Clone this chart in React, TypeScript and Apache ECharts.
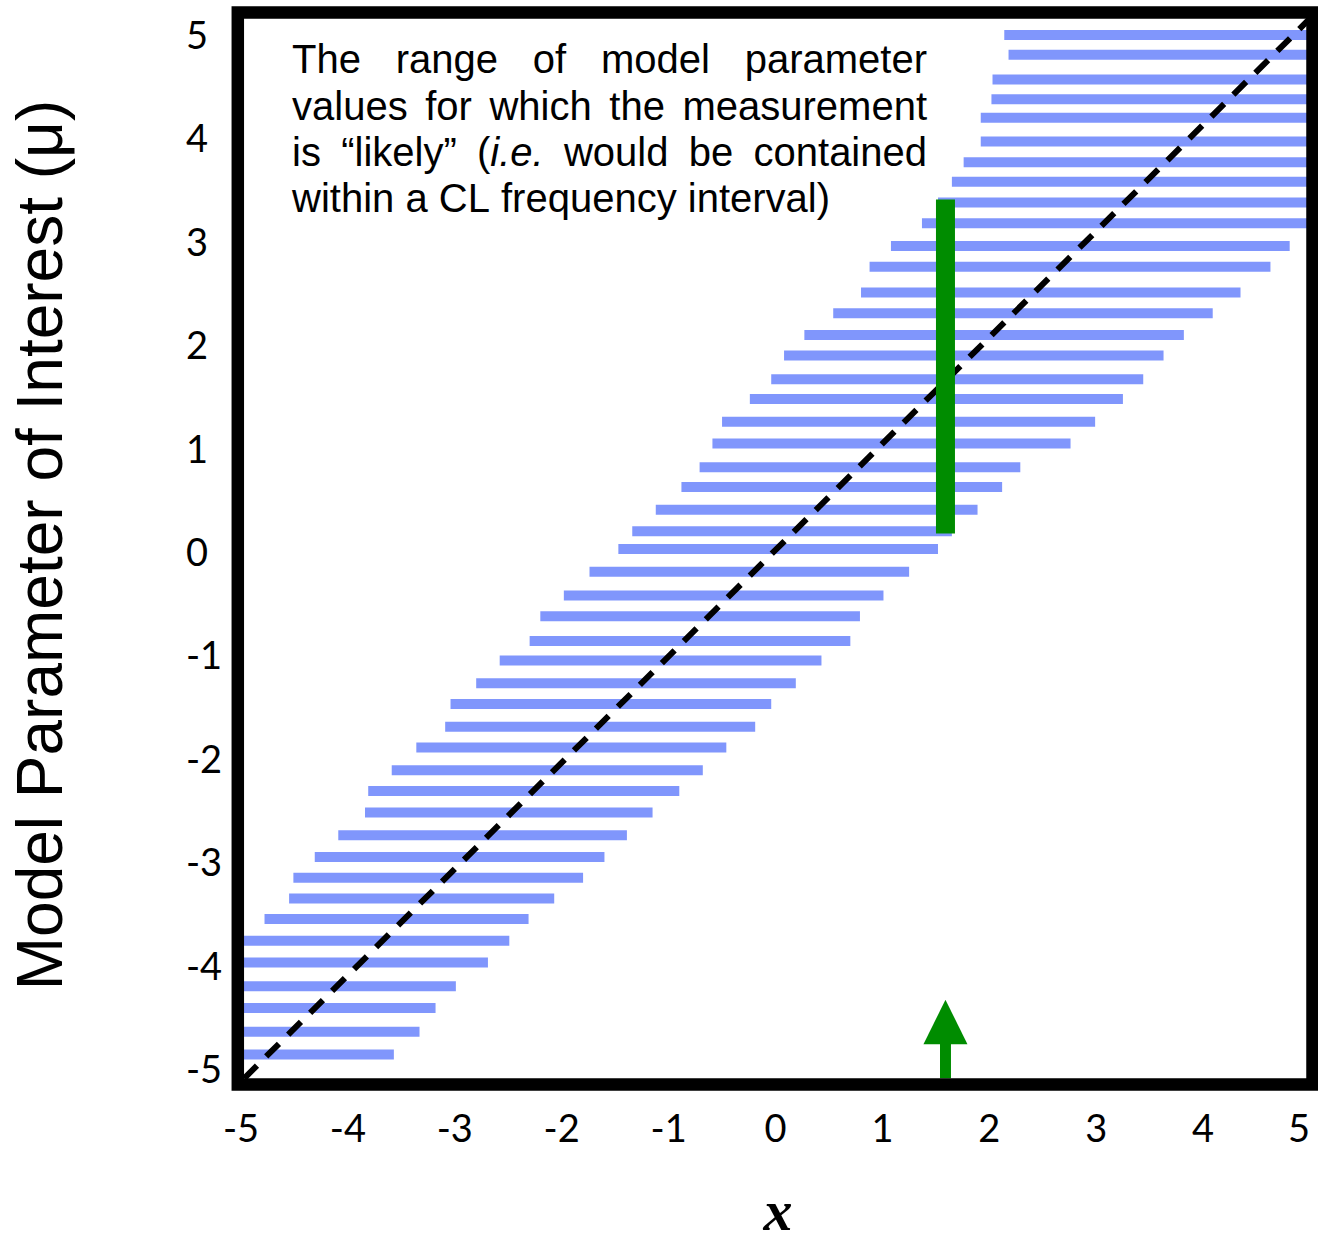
import React, { useEffect, useRef } from 'react';
import * as echarts from 'echarts';

// Horizontal confidence-belt segments: mu value, left x, right x
const barMu = [4.99, 4.8, 4.56, 4.37, 4.19, 3.96, 3.76, 3.57, 3.37, 3.17, 2.95, 2.75, 2.5, 2.3, 2.09, 1.89, 1.66, 1.47, 1.25, 1.04, 0.81, 0.62, 0.4, 0.19, 0.02, -0.2, -0.43, -0.63, -0.87, -1.06, -1.28, -1.48, -1.7, -1.9, -2.12, -2.32, -2.53, -2.75, -2.96, -3.16, -3.36, -3.56, -3.77, -3.98, -4.21, -4.42, -4.65, -4.87];
const barLo = [2.14, 2.18, 2.03, 2.02, 1.92, 1.92, 1.76, 1.65, 1.52, 1.37, 1.08, 0.88, 0.8, 0.54, 0.27, 0.08, -0.04, -0.24, -0.5, -0.59, -0.71, -0.88, -1.12, -1.34, -1.47, -1.74, -1.98, -2.2, -2.3, -2.58, -2.8, -3.04, -3.09, -3.36, -3.59, -3.81, -3.84, -4.09, -4.31, -4.51, -4.55, -4.78, -5, -5, -5, -5, -5, -5];
const barHi = [5, 5, 5, 5, 5, 5, 5, 5, 5, 5, 4.81, 4.63, 4.35, 4.09, 3.82, 3.63, 3.44, 3.25, 2.99, 2.76, 2.29, 2.12, 1.89, 1.65, 1.52, 1.25, 1.01, 0.79, 0.7, 0.43, 0.19, -0.04, -0.19, -0.46, -0.68, -0.9, -1.15, -1.39, -1.6, -1.8, -2.07, -2.31, -2.49, -2.69, -2.99, -3.18, -3.33, -3.57];

// Diagonal mu = x reference line (endpoints)
const diagX = [-4.97, 5.0];
const diagY = [-5.1, 5.15];

// Measured value and its interval
const measuredX = 1.59;
const intervalLo = 0.17;
const intervalHi = 3.4;
// Arrow: tip, head base, shaft bottom (in mu units)
const arrowTip = -4.34;
const arrowBase = -4.77;
const arrowBottom = -5.1;

const xTickMin = -5;
const xTickMax = 5;
const yTickMin = -5;
const yTickMax = 5;

const annotLines = [
  { words: ['The', 'range', 'of', 'model', 'parameter'], justify: true },
  { words: ['values', 'for', 'which', 'the', 'measurement'], justify: true },
  { words: ['is', '“likely”', '(_i.e._', 'would', 'be', 'contained'], justify: true },
  { words: ['within', 'a', 'CL', 'frequency', 'interval)'], justify: false },
];

const BLUE = '#8096fc';
const GREEN = '#008c00';

export default function App() {
  const ref = useRef<HTMLDivElement>(null);
  useEffect(() => {
    document.body.style.margin = '0';
    const chart = echarts.init(ref.current!, null, { renderer: 'svg' });

    // Justified annotation layout
    const canvas = document.createElement('canvas');
    const ctx = canvas.getContext('2d')!;
    const FS = 40;
    const FF = '"Liberation Sans", Arial, sans-serif';
    const measure = (t: string, italic: boolean) => {
      ctx.font = `${italic ? 'italic ' : ''}${FS}px ${FF}`;
      return ctx.measureText(t).width;
    };
    const textLeft = 292;
    const textRight = 927;
    const annotEls: any[] = [];
    annotLines.forEach((line, li) => {
      const words = line.words.map((w) => {
        const parts = w.split('_');
        const segs = parts
          .map((p, i) => ({ t: p, italic: i % 2 === 1 }))
          .filter((s) => s.t.length > 0)
          .map((s) => ({ ...s, w: measure(s.t, s.italic) }));
        return { segs, w: segs.reduce((a, s) => a + s.w, 0) };
      });
      const sum = words.reduce((a, w) => a + w.w, 0);
      const gap = line.justify
        ? (textRight - textLeft - sum) / (words.length - 1)
        : measure(' ', false);
      let x = textLeft;
      const y = 59.4 + li * 46.2;
      words.forEach((w) => {
        let sx = x;
        w.segs.forEach((s) => {
          annotEls.push({
            type: 'text',
            x: sx,
            y,
            z: 50,
            style: {
              text: s.t,
              fontSize: FS,
              fontFamily: FF,
              fontStyle: s.italic ? 'italic' : 'normal',
              fill: '#000',
              align: 'left',
              verticalAlign: 'middle',
            },
          });
          sx += s.w;
        });
        x += w.w + gap;
      });
    });

    const barData = barMu.map((m, i) => [m, barLo[i], barHi[i]]);

    const option: any = {
      animation: false,
      backgroundColor: '#fff',
      grid: { left: 241, right: 8, top: 34, bottom: 173, containLabel: false, outerBoundsMode: 'none' },
      xAxis: {
        type: 'value',
        min: xTickMin,
        max: xTickMax,
        interval: 1,
        axisLine: { show: false },
        axisTick: { show: false },
        splitLine: { show: false },
        axisLabel: {
          margin: 40,
          fontSize: 38,
          fontFamily: 'Lato, sans-serif',
          color: '#000',
          alignMaxLabel: 'right',
        },
      },
      yAxis: {
        type: 'value',
        min: yTickMin,
        max: yTickMax,
        interval: 1,
        axisLine: { show: false },
        axisTick: { show: false },
        splitLine: { show: false },
        axisLabel: {
          margin: 55,
          align: 'left',
          fontSize: 38,
          fontFamily: 'Lato, sans-serif',
          color: '#000',
        },
      },
      series: [
        {
          type: 'custom',
          name: 'belt',
          z: 2,
          clip: false,
          encode: { x: [1, 2], y: 0 },
          data: barData,
          renderItem: (params: any, api: any) => {
            const m = api.value(0);
            const p0 = api.coord([api.value(1), m]);
            const p1 = api.coord([api.value(2), m]);
            return {
              type: 'rect',
              shape: { x: p0[0], y: p0[1] - 5, width: p1[0] - p0[0], height: 10 },
              style: { fill: BLUE },
            };
          },
        },
        {
          type: 'line',
          name: 'diagonal',
          z: 3,
          clip: false,
          symbol: 'none',
          data: diagX.map((x, i) => [x, diagY[i]]),
          lineStyle: { color: '#000', width: 6, type: [18, 13] },
        },
        {
          type: 'custom',
          name: 'interval',
          z: 4,
          clip: false,
          encode: { x: 0, y: [1, 2] },
          data: [[measuredX, intervalLo, intervalHi]],
          renderItem: (params: any, api: any) => {
            const x = api.value(0);
            const pLo = api.coord([x, api.value(1)]);
            const pHi = api.coord([x, api.value(2)]);
            return {
              type: 'rect',
              shape: { x: pLo[0] - 9.5, y: pHi[1], width: 19, height: pLo[1] - pHi[1] },
              style: { fill: GREEN },
            };
          },
        },
        {
          type: 'custom',
          name: 'arrow',
          z: 4,
          clip: false,
          encode: { x: 0, y: [1, 2, 3] },
          data: [[measuredX, arrowTip, arrowBase, arrowBottom]],
          renderItem: (params: any, api: any) => {
            const x = api.value(0);
            const tip = api.coord([x, api.value(1)]);
            const base = api.coord([x, api.value(2)]);
            const bot = api.coord([x, api.value(3)]);
            const cx = tip[0];
            return {
              type: 'group',
              children: [
                {
                  type: 'polygon',
                  shape: { points: [[cx, tip[1]], [cx - 22, base[1]], [cx + 22, base[1]]] },
                  style: { fill: GREEN },
                },
                {
                  type: 'rect',
                  shape: { x: cx - 5.5, y: base[1] - 1, width: 11, height: bot[1] - base[1] + 1 },
                  style: { fill: GREEN },
                },
              ],
            };
          },
        },
      ],
      graphic: [
        {
          type: 'rect',
          z: 100,
          shape: { x: 237.8, y: 12.5, width: 1074.7, height: 1072 },
          style: { fill: 'none', stroke: '#000', lineWidth: 12.5 },
        },
        ...annotEls,
        {
          type: 'text',
          x: 40,
          y: 545,
          rotation: Math.PI / 2,
          style: {
            text: 'Model Parameter of Interest (μ)',
            fontSize: 64,
            fontFamily: FF,
            fill: '#000',
            align: 'center',
            verticalAlign: 'middle',
          },
        },
        {
          type: 'text',
          x: 778,
          y: 1210,
          style: {
            text: 'x',
            fontSize: 58,
            fontFamily: '"Liberation Serif", "Times New Roman", serif',
            fontStyle: 'italic',
            fontWeight: 'bold',
            fill: '#000',
            align: 'center',
            verticalAlign: 'middle',
          },
        },
      ],
    };
    chart.setOption(option);
    return () => chart.dispose();
  }, []);
  return <div ref={ref} style={{ width: 1318, height: 1241 }} />;
}
